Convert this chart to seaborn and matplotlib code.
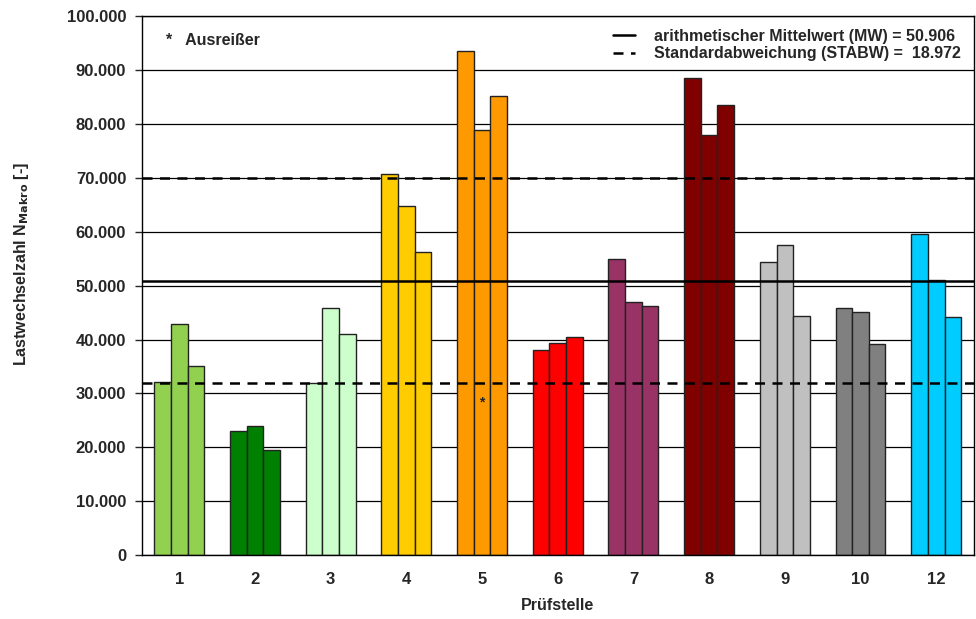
import numpy as np
import pandas as pd
import seaborn as sns
import matplotlib.pyplot as plt
from matplotlib.lines import Line2D
from matplotlib.ticker import FuncFormatter, MultipleLocator

# Werte je Prüfstelle (drei Proben)
pruefstellen = ["1", "2", "3", "4", "5", "6", "7", "8", "9", "10", "12"]
probe_1 = [32100, 23000, 31900, 70800, 93600, 38000, 55000, 88500, 54300, 45800, 59600]
probe_2 = [42800, 23900, 45800, 64700, 78800, 39400, 47000, 78000, 57500, 45100, 51000]
probe_3 = [35100, 19600, 41100, 56200, 85200, 40400, 46200, 83500, 44300, 39100, 44200]
farben = ["#92D050", "#008000", "#CCFFCC", "#FFCC00", "#FF9900", "#FF0000",
          "#993366", "#800000", "#C0C0C0", "#808080", "#00CCFF"]

mittelwert = 50906
stabw = 18972
ausreisser_stelle = "5"
ausreisser_wert = 28300

sns.set_style("white")
plt.rcParams['font.family'] = ['Liberation Sans', 'DejaVu Sans']
plt.rcParams['font.weight'] = 'bold'

df = pd.DataFrame({
    "Prüfstelle": pruefstellen * 3,
    "N": probe_1 + probe_2 + probe_3,
    "Probe": ["P1"] * 11 + ["P2"] * 11 + ["P3"] * 11,
})

fig, ax = plt.subplots(figsize=(9.76, 6.19), dpi=100)
fig.subplots_adjust(left=0.145, right=0.998, top=0.974, bottom=0.103)

sns.barplot(data=df, x="Prüfstelle", y="N", hue="Probe", order=pruefstellen,
            width=0.66, dodge=True, edgecolor="#222222", linewidth=1,
            legend=False, ax=ax)

# jede Prüfstelle bekommt ihre eigene Farbe
for cont in ax.containers:
    for bar, c in zip(cont, farben):
        bar.set_facecolor(c)

# Ausreißer als Stern über dem mittleren Balken
mid_bar = ax.containers[1][pruefstellen.index(ausreisser_stelle)]
ax.text(mid_bar.get_x() + mid_bar.get_width() / 2, ausreisser_wert, "*",
        ha="center", va="center", fontsize=10)

ax.axhline(mittelwert, color="black", lw=1.8, zorder=3)
ax.axhline(mittelwert + stabw, color="black", lw=1.8, ls=(0, (4, 3)), zorder=3)
ax.axhline(mittelwert - stabw, color="black", lw=1.8, ls=(0, (4, 3)), zorder=3)

ax.set_ylim(0, 100000)
ax.set_xlim(-0.5, len(pruefstellen) - 0.5)
ax.yaxis.set_major_locator(MultipleLocator(10000))
ax.yaxis.set_major_formatter(FuncFormatter(lambda v, p: f"{int(v):,}".replace(",", ".")))
ax.yaxis.grid(True, color="black", lw=0.9)
ax.set_axisbelow(True)

ax.set_xticks(np.arange(len(pruefstellen) + 1) - 0.5, minor=True)
ax.tick_params(axis="x", which="major", length=0, pad=12, labelsize=12)
ax.tick_params(axis="x", which="minor", length=5, direction="out", width=1)
ax.tick_params(axis="y", length=5, direction="out", width=1, labelsize=12,
               left=True, pad=6)
for lab in ax.get_xticklabels() + ax.get_yticklabels():
    lab.set_fontweight("bold")

for s in ax.spines.values():
    s.set_color("black")
    s.set_linewidth(1)

ax.set_xlabel("Prüfstelle", fontsize=11.5, fontweight="bold", labelpad=8)
ax.set_ylabel(r"Lastwechselzahl N$_{\mathbf{Makro}}$ [-]", fontsize=11.5,
              fontweight="bold")
ax.yaxis.set_label_coords(-0.133, 0.54)

handles = [Line2D([], [], color="black", lw=1.8),
           Line2D([], [], color="black", lw=1.8, ls=(0, (4, 3)))]
labels = [f"arithmetischer Mittelwert (MW) = {mittelwert/1000:.3f}",
          f"Standardabweichung (STABW) =  {stabw/1000:.3f}"]
leg = ax.legend(handles, labels, loc="upper right", frameon=False, fontsize=11.5,
                handlelength=1.4, handletextpad=1.2, borderaxespad=0.4,
                labelspacing=0.15)
for t in leg.get_texts():
    t.set_fontweight("bold")

ax.text(0.03, 0.955, "*   Ausreißer", transform=ax.transAxes, fontsize=11.5,
        fontweight="bold", va="center")

fig.savefig("out.png", dpi=100)
